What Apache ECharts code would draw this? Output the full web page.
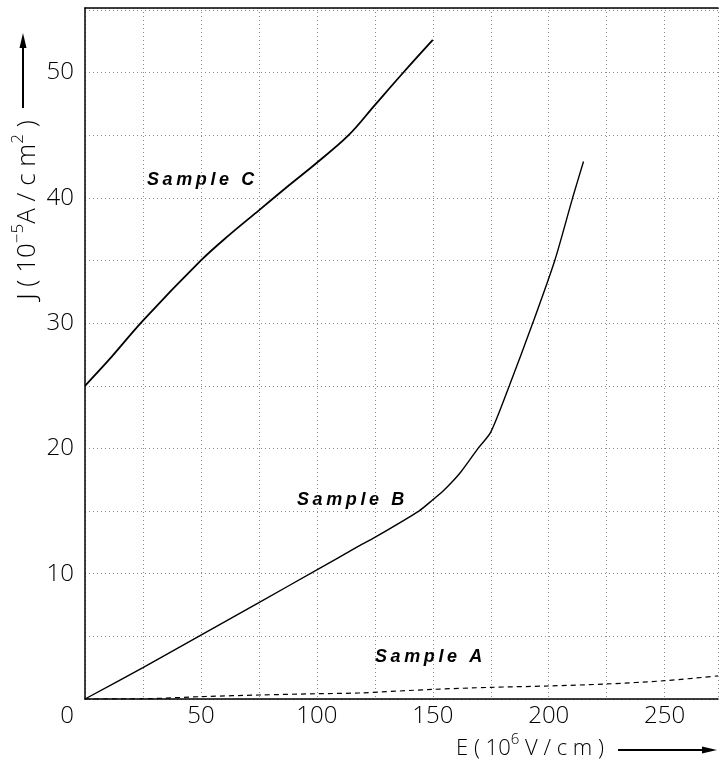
<!DOCTYPE html>
<html>
<head>
<meta charset="utf-8">
<script src="https://cdn.jsdelivr.net/npm/echarts@6/dist/echarts.min.js"></script>
<style>html,body{margin:0;padding:0;background:#fff;}#c{width:721px;height:764px;}</style>
</head>
<body>
<div id="c"></div>
<script>
// Sample C (upper curve)
const cX = [0, 10, 25, 50, 62, 75, 88, 100, 113.7, 125, 137.3, 150];
const cY = [25, 27, 30.2, 35, 37, 39, 41, 42.8, 45, 47.4, 50, 52.6];
// Sample B (middle curve)
const bX = [0, 25, 50, 75, 100, 118, 125, 144, 150, 155, 162, 169.5, 175, 183, 193.1, 202.6, 210.3, 215];
const bY = [0, 2.5, 5.1, 7.7, 10.3, 12.2, 12.9, 15.0, 15.9, 16.7, 18.1, 20.0, 21.3, 25.0, 30.0, 35.0, 40.0, 42.9];
// Sample A (dashed, near zero)
const aX = [0, 25, 52, 75, 100, 118, 150, 175, 200, 225, 250, 273];
const aY = [0, 0.02, 0.2, 0.32, 0.42, 0.48, 0.77, 0.93, 1.04, 1.2, 1.46, 1.84];
// tick label values
const xTickLabels = [50, 100, 150, 200, 250];
const yTickLabels = [10, 20, 30, 40, 50];

const zip = (xs, ys) => xs.map((x, i) => [x, ys[i]]);
const numFont = 'Open Sans';
const chart = echarts.init(document.getElementById('c'), null, {renderer: 'canvas'});
const splitStyle = {color: '#8a8a8a', width: 1, type: [1, 3]};
const richFor = (big, small) => ({
  n: {fontFamily: numFont, fontWeight: 300, fontSize: big, lineHeight: big + 5, verticalAlign: 'bottom', fill: '#000'},
  s: {fontFamily: numFont, fontWeight: 300, fontSize: small, lineHeight: big + 5, verticalAlign: 'top', fill: '#000'}
});
chart.setOption({
  animation: false,
  backgroundColor: '#fff',
  grid: {left: 85, right: 0, top: 8, bottom: 65},
  xAxis: [{
    type: 'value', min: 0, max: 273, interval: 25,
    axisLine: {show: true, lineStyle: {color: '#000', width: 1.5}},
    axisTick: {show: false},
    axisLabel: {
      margin: 5, color: '#000', fontFamily: numFont, fontSize: 24, fontWeight: 300,
      formatter: v => xTickLabels.indexOf(v) >= 0 ? String(v) : ''
    },
    splitLine: {show: true, lineStyle: splitStyle}
  }, {
    type: 'value', min: 0, max: 273, position: 'top',
    axisLine: {show: true, onZero: false, lineStyle: {color: '#000', width: 1.5}},
    axisTick: {show: false}, axisLabel: {show: false}, splitLine: {show: false}
  }],
  yAxis: {
    type: 'value', min: 0, max: 55.15, interval: 5,
    axisLine: {show: true, lineStyle: {color: '#000', width: 1.5}},
    axisTick: {show: false},
    axisLabel: {
      margin: 11, color: '#000', fontFamily: numFont, fontSize: 24, fontWeight: 300,
      formatter: v => yTickLabels.indexOf(v) >= 0 ? String(v) : ''
    },
    splitLine: {show: true, lineStyle: splitStyle}
  },
  series: [
    {name: 'Sample C', type: 'line', data: zip(cX, cY), smooth: 0.35, symbol: 'none',
     lineStyle: {color: '#000', width: 1.8}},
    {name: 'Sample B', type: 'line', data: zip(bX, bY), smooth: 0.25, symbol: 'none',
     lineStyle: {color: '#000', width: 1.4}},
    {name: 'Sample A', type: 'line', data: zip(aX, aY), smooth: 0.3, symbol: 'none',
     lineStyle: {color: '#000', width: 1.2, type: [5, 4]}}
  ],
  graphic: [
    {type: 'text', x: 67, y: 716, style: {text: '0', font: '300 24px "Open Sans"', fill: '#000', align: 'center', verticalAlign: 'middle'}},
    {type: 'text', x: 25, y: 210, rotation: Math.PI / 2,
     style: {text: '{n|J ( 10}{s|\u22125}{n|A / c m}{s|2}{n| )}', rich: richFor(26, 17), align: 'center', verticalAlign: 'middle'}},
    {type: 'line', shape: {x1: 23, y1: 108, x2: 23, y2: 44}, style: {stroke: '#000', lineWidth: 2}},
    {type: 'polygon', shape: {points: [[23, 33], [19.5, 48], [26.5, 48]]}, style: {fill: '#000'}},
    {type: 'text', x: 530, y: 746,
     style: {text: '{n|E ( 10}{s|6}{n| V / c m )}', rich: richFor(22, 15), align: 'center', verticalAlign: 'middle'}},
    {type: 'line', shape: {x1: 618, y1: 750, x2: 705, y2: 750}, style: {stroke: '#000', lineWidth: 2}},
    {type: 'polygon', shape: {points: [[717, 750], [702, 746.5], [702, 753.5]]}, style: {fill: '#000'}},
    {type: 'text', x: 147, y: 180, style: {text: 'S\u2009a\u2009m\u2009p\u2009l\u2009e\u2009 \u2009C', font: 'italic bold 18px "Liberation Sans"', fill: '#000', align: 'left', verticalAlign: 'middle'}},
    {type: 'text', x: 297, y: 500, style: {text: 'S\u2009a\u2009m\u2009p\u2009l\u2009e\u2009 \u2009B', font: 'italic bold 18px "Liberation Sans"', fill: '#000', align: 'left', verticalAlign: 'middle'}},
    {type: 'text', x: 375, y: 657, style: {text: 'S\u2009a\u2009m\u2009p\u2009l\u2009e\u2009 \u2009A', font: 'italic bold 18px "Liberation Sans"', fill: '#000', align: 'left', verticalAlign: 'middle'}}
  ]
});
</script>
</body>
</html>
